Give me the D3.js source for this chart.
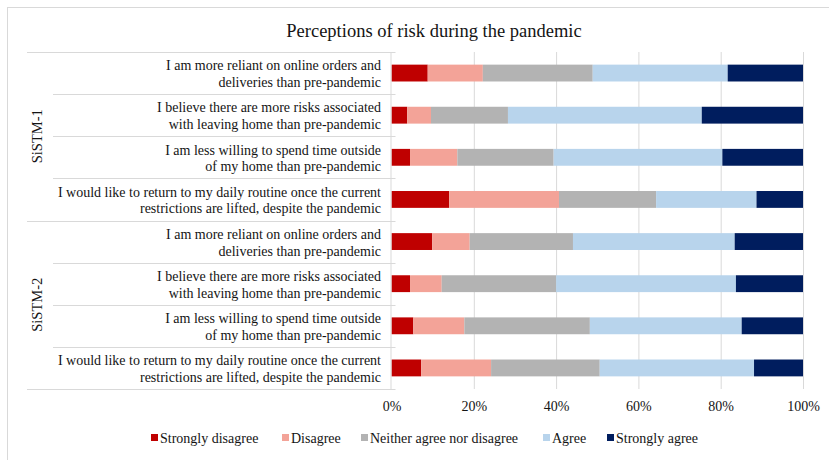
<!DOCTYPE html>
<html>
<head>
<meta charset="utf-8">
<script src="https://cdn.jsdelivr.net/npm/d3@7"></script>
<style>
  html, body { margin: 0; padding: 0; background: #fff; }
</style>
</head>
<body>
<svg id="chart" width="829" height="460"></svg>
<script>
// Survey statements, two lines each, grouped by cohort
const groups = ["SiSTM-1", "SiSTM-2"];
const statements = [
  ["I am more reliant on online orders and", "deliveries than pre-pandemic"],
  ["I believe there are more risks associated", "with leaving home than pre-pandemic"],
  ["I am less willing to spend time outside", "of my home than pre-pandemic"],
  ["I would like to return to my daily routine once the current", "restrictions are lifted, despite the pandemic"]
];
const responses = ["Strongly disagree", "Disagree", "Neither agree nor disagree", "Agree", "Strongly agree"];
const colors = ["#bf0000", "#f3a398", "#b3b3b3", "#b8d4ec", "#001d5e"];

// Share of respondents (%) per response, in statement order
const sistm1 = [
  [8.8, 13.4, 26.7, 32.8, 18.3],
  [3.8, 5.8, 18.7, 47.1, 24.6],
  [4.5, 11.5, 23.4, 41.0, 19.6],
  [14.0, 26.7, 23.6, 24.4, 11.3]
];
const sistm2 = [
  [9.9, 9.1, 25.1, 39.3, 16.6],
  [4.5, 7.7, 27.8, 43.7, 16.3],
  [5.3, 12.4, 30.5, 36.9, 14.9],
  [7.2, 17.0, 26.4, 37.5, 11.9]
];
const tickValues = [0, 20, 40, 60, 80, 100];

const title = "Perceptions of risk during the pandemic";

const FONT = '"Liberation Serif", "Times New Roman", serif';
const INK = "#141414";
const svg = d3.select("#chart");
const plot = { left: 391.5, right: 803, top: 52, bottom: 389 };

// Outer chart frame
svg.append("rect")
  .attr("x", 7.5).attr("y", 7.5)
  .attr("width", 840).attr("height", 470)
  .attr("fill", "none").attr("stroke", "#d9d9d9").attr("stroke-width", 1);

svg.append("text")
  .attr("x", 434).attr("y", 37)
  .attr("text-anchor", "middle")
  .style("font-family", FONT).style("font-size", "18.5px")
  .attr("fill", INK)
  .text(title);

// Flattened rows: group + statement
const rows = [];
groups.forEach((g, gi) => {
  const vals = gi === 0 ? sistm1 : sistm2;
  statements.forEach((s, si) => rows.push({ id: g + "|" + si, group: g, lines: s, values: vals[si] }));
});

const x = d3.scaleLinear().domain([0, 100]).range([plot.left, plot.right]);
const y = d3.scaleBand().domain(rows.map(r => r.id))
  .range([plot.top, plot.bottom]).paddingInner(0.6).paddingOuter(0.3);
const step = y.step();

// Value axis labels
const xAxis = d3.axisBottom(x).tickValues(tickValues).tickFormat(d => d + "%").tickSize(0);
const gx = svg.append("g").attr("transform", `translate(0,${plot.bottom})`).call(xAxis);
gx.select(".domain").remove();
gx.selectAll(".tick text")
  .style("font-family", FONT).style("font-size", "14px")
  .attr("fill", INK).attr("dy", "1.36em");

// Vertical gridlines
svg.append("g").selectAll("line").data(tickValues.slice(1)).join("line")
  .attr("x1", d => x(d) + 0.5).attr("x2", d => x(d) + 0.5)
  .attr("y1", plot.top).attr("y2", plot.bottom)
  .attr("stroke", "#d9d9d9").attr("stroke-width", 1);

// Stacked bars
const stacked = rows.map(r => {
  let acc = 0;
  return r.values.map((v, i) => { const s = { id: r.id, x0: acc, x1: acc + v, i }; acc += v; return s; });
});
svg.append("g").selectAll("g").data(stacked).join("g")
  .selectAll("rect").data(d => d).join("rect")
  .attr("x", d => x(d.x0)).attr("width", d => x(d.x1) - x(d.x0))
  .attr("y", d => y(d.id)).attr("height", y.bandwidth())
  .attr("fill", d => colors[d.i]);

// Category axis: line, row separators, group separators
const axisG = svg.append("g").attr("stroke", "#d9d9d9").attr("stroke-width", 1);
axisG.append("line")
  .attr("x1", plot.left - 0.5).attr("x2", plot.left - 0.5)
  .attr("y1", plot.top).attr("y2", plot.bottom);
rows.forEach((r, i) => {
  if (i === 0 || i === 4) return;
  const yy = Math.round(plot.top + i * step) + 0.5;
  axisG.append("line").attr("x1", 53).attr("x2", plot.left + 4).attr("y1", yy).attr("y2", yy);
});
[0, 4, 8].forEach(i => {
  const yy = Math.round(plot.top + i * step) + 0.5;
  axisG.append("line").attr("x1", 27).attr("x2", plot.left + 4).attr("y1", yy).attr("y2", yy);
});

// Statement labels
const lab = svg.append("g").attr("text-anchor", "end");
rows.forEach(r => {
  const cy = y(r.id) + y.bandwidth() / 2;
  const t = lab.append("text").attr("x", 381).attr("y", cy)
    .style("font-family", FONT).style("font-size", "14px").attr("fill", INK);
  t.append("tspan").attr("x", 381).attr("dy", "-0.2em").text(r.lines[0]);
  t.append("tspan").attr("x", 381).attr("dy", "1.2em").text(r.lines[1]);
});

// Group labels
groups.forEach((g, gi) => {
  const cy = plot.top + (gi * 4 + 2) * step;
  svg.append("text")
    .attr("transform", `translate(42,${cy}) rotate(-90)`)
    .attr("text-anchor", "middle")
    .style("font-family", FONT).style("font-size", "14.5px").attr("fill", INK)
    .text(g);
});

// Legend
const legendX = [151, 282, 361, 543, 607];
const leg = svg.append("g").attr("transform", "translate(0,438)");
responses.forEach((name, i) => {
  leg.append("rect").attr("x", legendX[i]).attr("y", -4).attr("width", 7).attr("height", 7).attr("fill", colors[i]);
  leg.append("text").attr("x", legendX[i] + 9).attr("y", 5)
    .style("font-family", FONT).style("font-size", "14px").attr("fill", INK).text(name);
});
</script>
</body>
</html>
